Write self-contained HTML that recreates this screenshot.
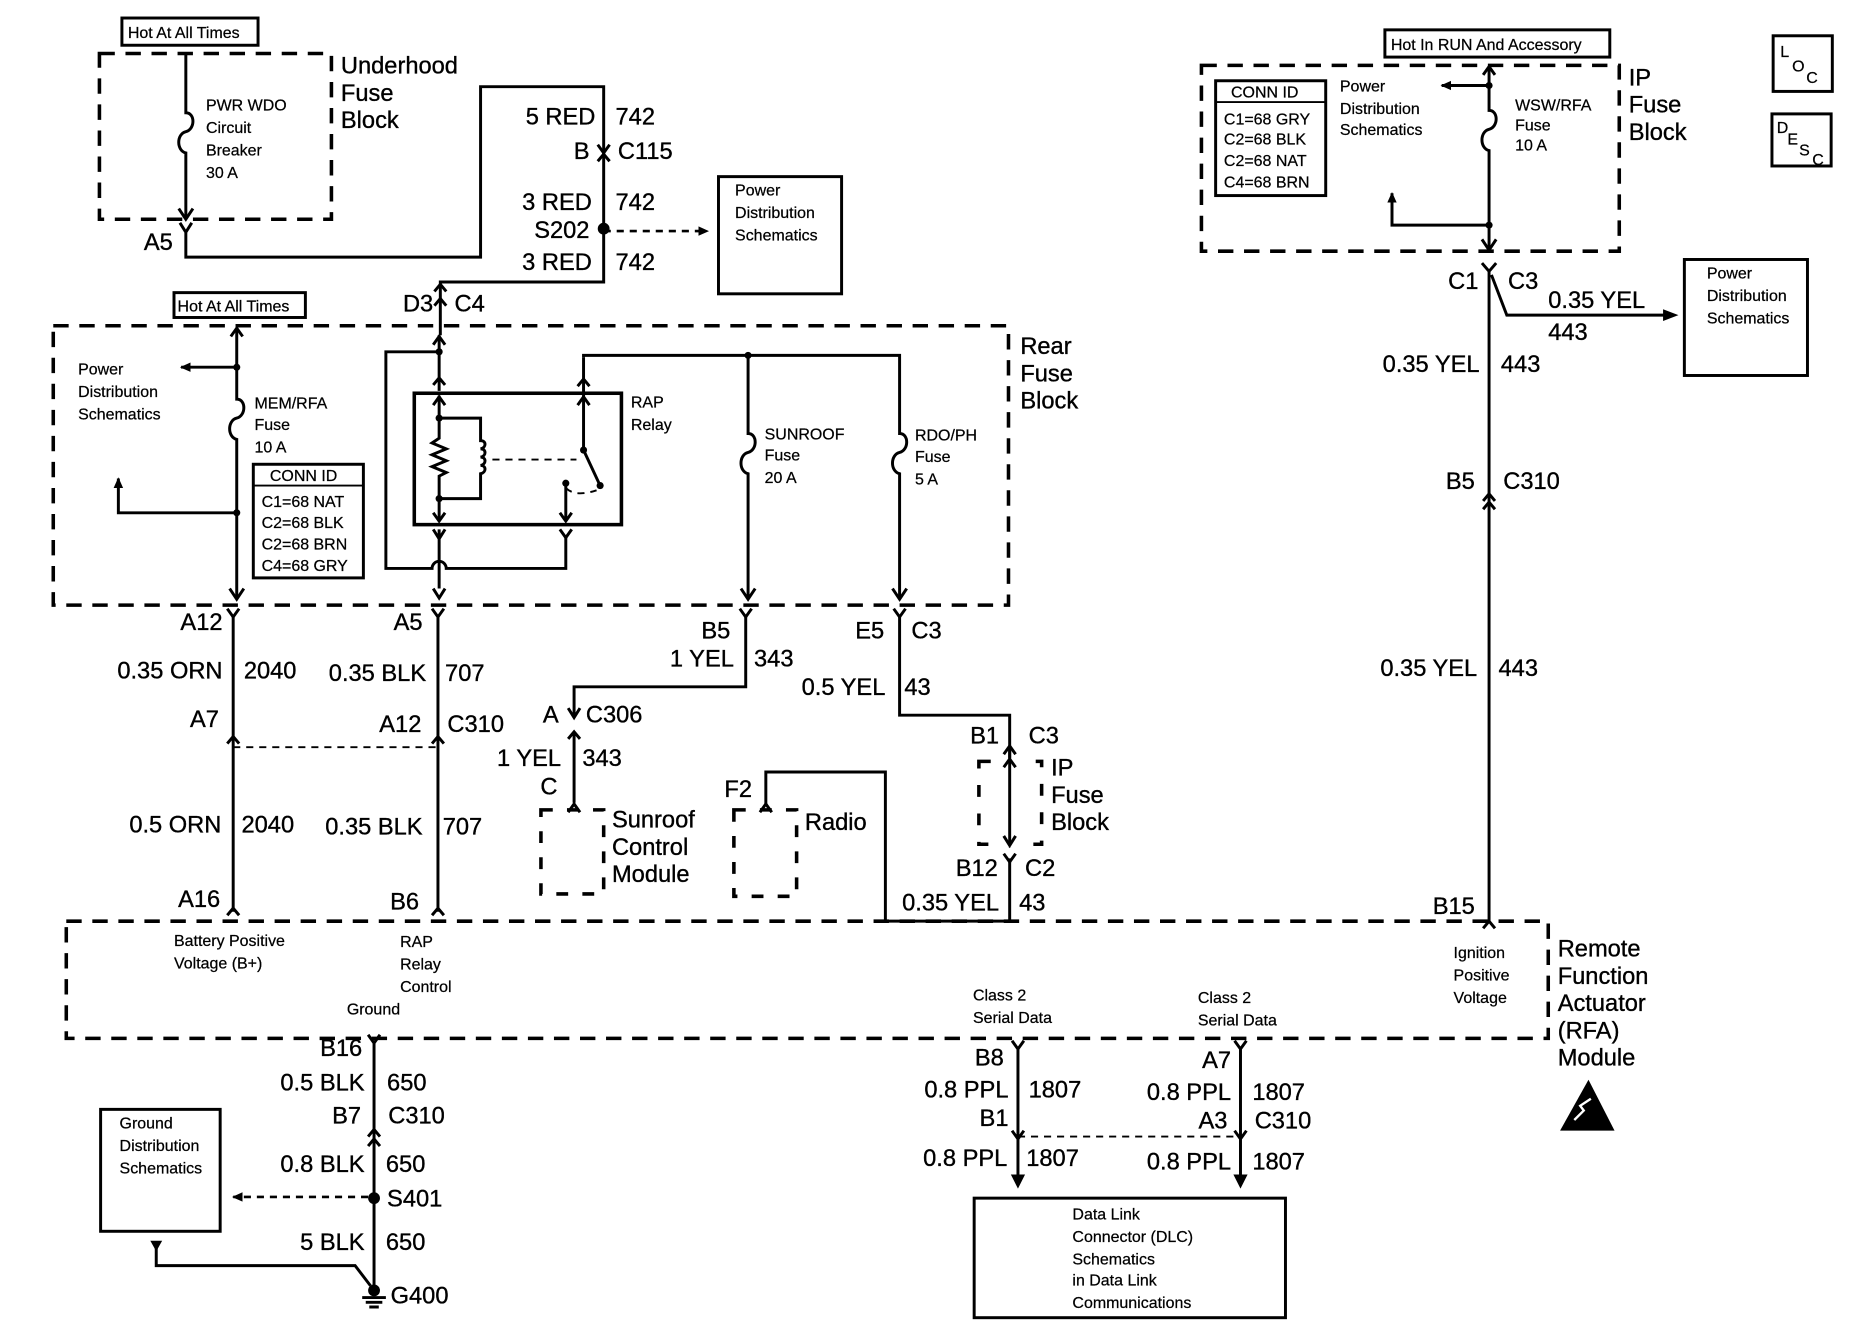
<!DOCTYPE html>
<html><head><meta charset="utf-8"><style>
html,body{margin:0;padding:0;background:#fff}
svg{display:block}
.w{stroke:#000;stroke-width:2.5;fill:none}
.th{stroke:#000;stroke-width:1.6;fill:none}
.d{stroke:#000;stroke-width:3;fill:none;stroke-dasharray:13,9}
.ds{stroke:#000;stroke-width:1.6;fill:none;stroke-dasharray:6,5}
.b{stroke:#000;stroke-width:2.5;fill:none}
text{font-family:"Liberation Sans",sans-serif;fill:#000}
.t{font-size:20px;stroke:#000;stroke-width:0.3}
.s{font-size:13.5px;stroke:#000;stroke-width:0.2}
.r{text-anchor:end}
</style></head><body>
<svg width="1856" height="1344" viewBox="0 0 1568 1135" xmlns="http://www.w3.org/2000/svg">
<defs>
<marker id="ah" markerWidth="10" markerHeight="10" refX="8" refY="5" orient="auto" markerUnits="userSpaceOnUse"><path d="M0,1 L9,5 L0,9 z" fill="#000"/></marker>
</defs>

<!-- ===== Underhood fuse block ===== -->
<rect x="103" y="15" width="115" height="23" class="b"/>
<text x="108" y="32" class="s">Hot At All Times</text>
<rect x="84" y="45" width="196" height="140" class="d"/>
<text x="288" y="62" class="t">Underhood</text>
<text x="288" y="85" class="t">Fuse</text>
<text x="288" y="108" class="t">Block</text>
<path class="w" d="M157 45 V95 c8 0 8 14 0 16 c-8 2 -8 16 0 18 V183"/>
<path class="w" d="M151 176 L157 185 L163 176"/>
<path class="w" d="M152 188 L157 196 L162 188 M157 196 V217 H406 V73 H510 V238 H372 V283"/>
<text x="174" y="93" class="s">PWR WDO</text>
<text x="174" y="112" class="s">Circuit</text>
<text x="174" y="131" class="s">Breaker</text>
<text x="174" y="150" class="s">30 A</text>
<text x="146" y="211" class="t r">A5</text>
<text x="503" y="105" class="t r">5 RED</text><text x="520" y="105" class="t">742</text>
<text x="498" y="134" class="t r">B</text><text x="522" y="134" class="t">C115</text>
<path class="w" d="M505 122 L510 129 L515 122 M505 136 L510 130 L515 136"/>
<text x="500" y="177" class="t r">3 RED</text><text x="520" y="177" class="t">742</text>
<circle cx="510" cy="193" r="5" fill="#000"/>
<text x="498" y="201" class="t r">S202</text>
<line x1="510" y1="195" x2="598" y2="195" class="ds" style="stroke-width:2.2" marker-end="url(#ah)"/>
<text x="500" y="228" class="t r">3 RED</text><text x="520" y="228" class="t">742</text>
<rect x="607" y="149" width="104" height="99" class="b"/>
<text x="621" y="165" class="s">Power</text>
<text x="621" y="184" class="s">Distribution</text>
<text x="621" y="203" class="s">Schematics</text>
<text x="366" y="263" class="t r">D3</text><text x="384" y="263" class="t">C4</text>
<path class="w" d="M367 246 L372 240 L377 246 M367 258 L372 252 L377 258"/>

<!-- ===== Rear fuse block ===== -->
<rect x="147" y="247" width="111" height="21" class="b"/>
<text x="150" y="263" class="s">Hot At All Times</text>
<path class="d" d="M45 275 H852 V511 H45 Z"/>
<text x="862" y="299" class="t">Rear</text>
<text x="862" y="322" class="t">Fuse</text>
<text x="862" y="345" class="t">Block</text>

<path class="w" d="M200 278 V337 c8 0 8 14 0 16 c-8 2 -8 16 0 18 V505"/>
<path class="w" d="M195 284 L200 277 L205 284 M194 497 L200 506 L206 497"/>
<circle cx="200" cy="310" r="3" fill="#000"/>
<line x1="200" y1="310" x2="153" y2="310" class="w" marker-end="url(#ah)"/>
<text x="66" y="316" class="s">Power</text>
<text x="66" y="335" class="s">Distribution</text>
<text x="66" y="354" class="s">Schematics</text>
<text x="215" y="345" class="s">MEM/RFA</text>
<text x="215" y="363" class="s">Fuse</text>
<text x="215" y="382" class="s">10 A</text>
<circle cx="200" cy="433" r="3" fill="#000"/>
<path class="w" d="M200 433 H100 V404" marker-end="url(#ah)"/>
<rect x="214" y="392" width="93" height="96" class="b"/>
<line x1="214" y1="410" x2="307" y2="410" class="th"/>
<text x="228" y="406" class="s">CONN ID</text>
<text x="221" y="428" class="s">C1=68 NAT</text>
<text x="221" y="446" class="s">C2=68 BLK</text>
<text x="221" y="464" class="s">C2=68 BRN</text>
<text x="221" y="482" class="s">C4=68 GRY</text>

<path class="w" d="M371 283 V297 H326 V480 H365 a6 6 0 0 1 12 0 H478 V453"/>
<circle cx="371" cy="297" r="3" fill="#000"/>
<path class="w" d="M366 291 L371 284 L376 291"/>
<path class="w" d="M371 297 V330 M366 325 L371 319 L376 325"/>
<rect x="350" y="332" width="175" height="111" style="stroke:#000;stroke-width:3;fill:none"/>
<path class="w" d="M371 334 V370 l-6 4 l12 5 l-12 5 l12 5 l-12 5 l12 5 l-6 3 V440"/>
<path class="w" d="M366 342 L371 335 L376 342 M366 433 L371 440 L376 433"/>
<circle cx="371" cy="353" r="3" fill="#000"/><circle cx="371" cy="421" r="3" fill="#000"/>
<path class="w" d="M371 353 H406 V372 c5 0 5 6 0 7 c5 0 5 6 0 7 c5 0 5 6 0 7 c5 0 5 6 0 7 V421 H371"/>
<line x1="416" y1="388" x2="487" y2="388" class="ds"/>
<path class="w" d="M371 447 L371 455 M366 447 L371 455 L376 447 M371 455 V497"/>
<path class="w" d="M366 497 L371 505 L376 497"/>
<path class="w" d="M493 302 V380 L507 410"/>
<path class="w" d="M488 342 L493 335 L498 342 M488 326 L493 320 L498 326"/>
<circle cx="493" cy="380" r="3" fill="#000"/><circle cx="507" cy="410" r="3" fill="#000"/>
<circle cx="478" cy="408" r="3" fill="#000"/>
<path class="ds" d="M478 412 q8 8 26 2"/>
<path class="w" d="M478 408 V440 M473 433 L478 440 L483 433 M473 447 L478 454 L483 447"/>
<path class="w" d="M493 302 V300 H760 V366 c8 0 8 14 0 16 c-8 2 -8 16 0 18 V505"/>
<circle cx="632" cy="300" r="3" fill="#000"/>
<path class="w" d="M632 300 V366 c8 0 8 14 0 16 c-8 2 -8 16 0 18 V505"/>
<path class="w" d="M626 497 L632 506 L638 497 M754 497 L760 506 L766 497"/>
<text x="533" y="344" class="s">RAP</text>
<text x="533" y="363" class="s">Relay</text>
<text x="646" y="371" class="s">SUNROOF</text>
<text x="646" y="389" class="s">Fuse</text>
<text x="646" y="408" class="s">20 A</text>
<text x="773" y="372" class="s">RDO/PH</text>
<text x="773" y="390" class="s">Fuse</text>
<text x="773" y="409" class="s">5 A</text>

<path class="w" d="M192 514 L197 521 L202 514 M365 514 L370 521 L375 514 M625 514 L630 521 L635 514 M755 514 L760 521 L765 514"/>
<path class="w" d="M197 521 V770 M370 521 V770"/>
<path class="w" d="M192 628 L197 622 L202 628 M365 628 L370 622 L375 628 M192 773 L197 767 L202 773 M365 773 L370 767 L375 773"/>
<line x1="197" y1="631" x2="370" y2="631" class="ds"/>
<text x="188" y="532" class="t r">A12</text>
<text x="357" y="532" class="t r">A5</text>
<text x="188" y="573" class="t r">0.35 ORN</text><text x="206" y="573" class="t">2040</text>
<text x="360" y="575" class="t r">0.35 BLK</text><text x="376" y="575" class="t">707</text>
<text x="185" y="614" class="t r">A7</text>
<text x="356" y="618" class="t r">A12</text><text x="378" y="618" class="t">C310</text>
<text x="187" y="703" class="t r">0.5 ORN</text><text x="204" y="703" class="t">2040</text>
<text x="357" y="705" class="t r">0.35 BLK</text><text x="374" y="705" class="t">707</text>
<text x="186" y="766" class="t r">A16</text>
<text x="354" y="768" class="t r">B6</text>

<path class="w" d="M630 521 V580 H485 V606"/>
<path class="w" d="M480 598 L485 606 L490 598 M480 624 L485 618 L490 624 M485 618 V678 M480 686 L485 679 L490 686"/>
<text x="617" y="539" class="t r">B5</text>
<text x="747" y="539" class="t r">E5</text><text x="770" y="539" class="t">C3</text>
<text x="620" y="563" class="t r">1 YEL</text><text x="637" y="563" class="t">343</text>
<text x="472" y="610" class="t r">A</text><text x="495" y="610" class="t">C306</text>
<text x="474" y="647" class="t r">1 YEL</text><text x="492" y="647" class="t">343</text>
<text x="471" y="671" class="t r">C</text>
<rect x="457" y="684" width="53" height="71" class="d" style="stroke-dasharray:10,12"/>
<text x="517" y="699" class="t">Sunroof</text>
<text x="517" y="722" class="t">Control</text>
<text x="517" y="745" class="t">Module</text>

<text x="612" y="673" class="t">F2</text>
<path class="w" d="M647 680 V652 H748 V778 H853 V725"/>
<path class="w" d="M642 686 L647 679 L652 686"/>
<rect x="620" y="684" width="53" height="73" class="d" style="stroke-dasharray:10,12"/>
<text x="680" y="701" class="t">Radio</text>

<path class="w" d="M760 521 V604 H853 V716"/>
<text x="748" y="587" class="t r">0.5 YEL</text><text x="764" y="587" class="t">43</text>
<text x="844" y="628" class="t r">B1</text><text x="869" y="628" class="t">C3</text>
<rect x="827" y="643" width="53" height="70" class="d" style="stroke-dasharray:10,14"/>
<rect x="840" y="640" width="26" height="76" fill="#fff"/>
<path class="w" d="M853 630 V714"/>
<path class="w" d="M848 637 L853 630 L858 637 M848 648 L853 641 L858 648 M848 706 L853 714 L858 706 M848 721 L853 728 L858 721"/>
<text x="888" y="655" class="t">IP</text>
<text x="888" y="678" class="t">Fuse</text>
<text x="888" y="701" class="t">Block</text>
<text x="843" y="740" class="t r">B12</text><text x="866" y="740" class="t">C2</text>
<text x="844" y="769" class="t r">0.35 YEL</text><text x="861" y="769" class="t">43</text>

<path class="d" d="M56 778 H1308 V877 H56 Z"/>
<text x="147" y="799" class="s">Battery Positive</text>
<text x="147" y="818" class="s">Voltage (B+)</text>
<text x="338" y="800" class="s">RAP</text>
<text x="338" y="819" class="s">Relay</text>
<text x="338" y="838" class="s">Control</text>
<text x="293" y="857" class="s">Ground</text>
<text x="822" y="845" class="s">Class 2</text>
<text x="822" y="864" class="s">Serial Data</text>
<text x="1012" y="847" class="s">Class 2</text>
<text x="1012" y="866" class="s">Serial Data</text>
<text x="1228" y="809" class="s">Ignition</text>
<text x="1228" y="828" class="s">Positive</text>
<text x="1228" y="847" class="s">Voltage</text>
<text x="1316" y="808" class="t">Remote</text>
<text x="1316" y="831" class="t">Function</text>
<text x="1316" y="854" class="t">Actuator</text>
<text x="1316" y="877" class="t">(RFA)</text>
<text x="1316" y="900" class="t">Module</text>
<path d="M1318 955 L1342 912 L1364 955 Z" fill="#000"/>
<path d="M1330 946 l8 -8 l-3 -4 l9 -6" stroke="#fff" stroke-width="2" fill="none"/>

<path class="w" d="M311 874 L316 881 L321 874 M316 881 V1088"/>
<path class="w" d="M311 960 L316 954 L321 960 M311 968 L316 962 L321 968"/>
<text x="306" y="892" class="t r">B16</text>
<text x="308" y="921" class="t r">0.5 BLK</text><text x="327" y="921" class="t">650</text>
<text x="305" y="949" class="t r">B7</text><text x="328" y="949" class="t">C310</text>
<text x="308" y="990" class="t r">0.8 BLK</text><text x="326" y="990" class="t">650</text>
<circle cx="316" cy="1012" r="5" fill="#000"/>
<text x="327" y="1019" class="t">S401</text>
<line x1="311" y1="1011" x2="197" y2="1011" class="ds" style="stroke-width:2.2" marker-end="url(#ah)"/>
<rect x="85" y="937" width="101" height="103" class="b"/>
<text x="101" y="953" class="s">Ground</text>
<text x="101" y="972" class="s">Distribution</text>
<text x="101" y="991" class="s">Schematics</text>
<text x="308" y="1056" class="t r">5 BLK</text><text x="326" y="1056" class="t">650</text>
<path class="w" d="M132 1052 V1069 H300 L313 1086"/>
<path d="M127 1048 H137 L132 1057 Z" fill="#000"/>
<circle cx="316" cy="1090" r="5" fill="#000"/>
<path class="w" d="M306 1096 H326 M309 1100 H323 M312 1104 H320"/>
<text x="330" y="1101" class="t">G400</text>

<path class="w" d="M855 879 L860 886 L865 879 M860 886 V1000 M1043 879 L1048 886 L1053 879 M1048 886 V1000"/>
<path class="w" d="M855 955 L860 962 L865 955 M1043 955 L1048 962 L1053 955"/>
<path d="M854 992 L860 1004 L866 992 Z M1042 992 L1048 1004 L1054 992 Z" fill="#000"/>
<line x1="860" y1="960" x2="1048" y2="960" class="ds"/>
<text x="848" y="900" class="t r">B8</text>
<text x="852" y="927" class="t r">0.8 PPL</text><text x="869" y="927" class="t">1807</text>
<text x="852" y="951" class="t r">B1</text>
<text x="851" y="985" class="t r">0.8 PPL</text><text x="867" y="985" class="t">1807</text>
<text x="1040" y="902" class="t r">A7</text>
<text x="1040" y="929" class="t r">0.8 PPL</text><text x="1058" y="929" class="t">1807</text>
<text x="1037" y="953" class="t r">A3</text><text x="1060" y="953" class="t">C310</text>
<text x="1040" y="988" class="t r">0.8 PPL</text><text x="1058" y="988" class="t">1807</text>
<rect x="823" y="1012" width="263" height="101" class="b"/>
<text x="906" y="1030" class="s">Data Link</text>
<text x="906" y="1049" class="s">Connector (DLC)</text>
<text x="906" y="1068" class="s">Schematics</text>
<text x="906" y="1086" class="s">in Data Link</text>
<text x="906" y="1105" class="s">Communications</text>

<rect x="1170" y="25" width="190" height="23" class="b"/>
<text x="1175" y="42" class="s">Hot In RUN And Accessory</text>
<path class="d" d="M1015 55 H1368 V212 H1015 Z"/>
<text x="1376" y="72" class="t">IP</text>
<text x="1376" y="95" class="t">Fuse</text>
<text x="1376" y="118" class="t">Block</text>
<path class="w" d="M1258 57 V93 c8 0 8 14 0 16 c-8 2 -8 16 0 18 V210"/>
<path class="w" d="M1253 63 L1258 56 L1263 63 M1252 202 L1258 211 L1264 202"/>
<circle cx="1258" cy="72" r="3" fill="#000"/>
<line x1="1258" y1="72" x2="1218" y2="72" class="w" marker-end="url(#ah)"/>
<text x="1132" y="77" class="s">Power</text>
<text x="1132" y="96" class="s">Distribution</text>
<text x="1132" y="114" class="s">Schematics</text>
<text x="1280" y="93" class="s">WSW/RFA</text>
<text x="1280" y="110" class="s">Fuse</text>
<text x="1280" y="127" class="s">10 A</text>
<circle cx="1258" cy="190" r="3" fill="#000"/>
<path class="w" d="M1258 190 H1176 V163" marker-end="url(#ah)"/>
<rect x="1027" y="68" width="93" height="97" class="b"/>
<line x1="1027" y1="86" x2="1120" y2="86" class="th"/>
<text x="1040" y="82" class="s">CONN ID</text>
<text x="1034" y="105" class="s">C1=68 GRY</text>
<text x="1034" y="122" class="s">C2=68 BLK</text>
<text x="1034" y="140" class="s">C2=68 NAT</text>
<text x="1034" y="158" class="s">C4=68 BRN</text>

<path class="w" d="M1252 222 L1258 229 L1264 222 M1258 229 V780 M1260 232 L1273 266 H1413" />
<polygon points="1405,261 1418,266 1405,271" fill="#000"/>
<text x="1249" y="244" class="t r">C1</text><text x="1274" y="244" class="t">C3</text>
<text x="1308" y="260" class="t">0.35 YEL</text>
<text x="1308" y="287" class="t">443</text>
<rect x="1423" y="219" width="104" height="98" class="b"/>
<text x="1442" y="235" class="s">Power</text>
<text x="1442" y="254" class="s">Distribution</text>
<text x="1442" y="273" class="s">Schematics</text>
<text x="1250" y="314" class="t r">0.35 YEL</text><text x="1268" y="314" class="t">443</text>
<text x="1246" y="413" class="t r">B5</text><text x="1270" y="413" class="t">C310</text>
<path class="w" d="M1253 423 L1258 417 L1263 423 M1253 430 L1258 424 L1263 430"/>
<text x="1248" y="571" class="t r">0.35 YEL</text><text x="1266" y="571" class="t">443</text>
<text x="1246" y="772" class="t r">B15</text>
<path class="w" d="M1253 784 L1258 778 L1263 784"/>

<rect x="1498" y="30" width="50" height="47" class="b"/>
<text x="1504" y="48" class="s">L</text><text x="1514" y="60" class="s">O</text><text x="1526" y="70" class="s">C</text>
<rect x="1497" y="96" width="50" height="44" class="b"/>
<text x="1501" y="112" class="s">D</text><text x="1510" y="122" class="s">E</text><text x="1520" y="131" class="s">S</text><text x="1531" y="139" class="s">C</text>
</svg>
</body></html>
